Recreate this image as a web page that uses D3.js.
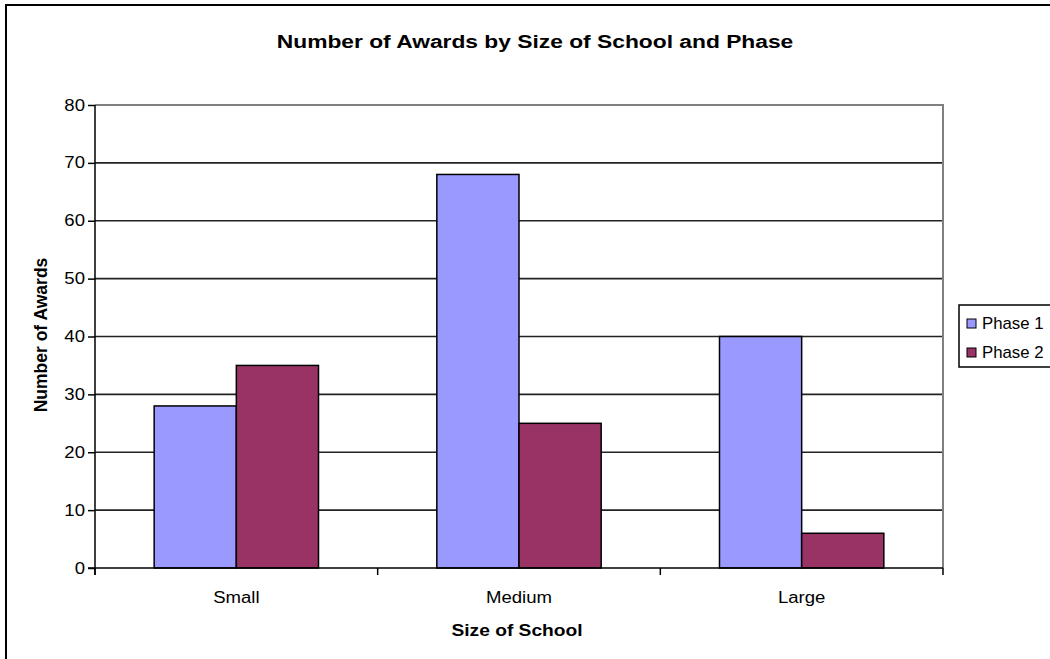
<!DOCTYPE html>
<html><head><meta charset="utf-8">
<script src="https://cdn.jsdelivr.net/npm/d3@7"></script>
<style>body{margin:0;background:#fff}svg{display:block;font-family:"Liberation Sans",Arial,sans-serif}</style>
</head><body><svg id="c" width="1050" height="659"></svg>
<script>
const categories = ["Small", "Medium", "Large"];
const seriesNames = ["Phase 1", "Phase 2"];
const phase1 = [28, 68, 40];
const phase2 = [35, 25, 6];
const yTicks = [0, 10, 20, 30, 40, 50, 60, 70, 80];
const colors = ["#9999FF", "#993366"];

const svg = d3.select("#c");
const L = 95, R = 943, T = 105, B = 568;
const SX = 1.16;

function txt(x, y, s, opts) {
  opts = opts || {};
  const t = svg.append("text")
    .attr("transform", `translate(${x},${y}) scale(${opts.sx || SX},1)`)
    .attr("text-anchor", opts.anchor || "start")
    .attr("font-size", opts.size || 16)
    .attr("fill", "#000")
    .text(s);
  if (opts.bold) t.attr("font-weight", "bold");
  if (opts.dy) t.attr("dy", opts.dy);
  return t;
}

svg.append("path").attr("d", `M6,659 V5 H1050`).attr("fill","none").attr("stroke","#000").attr("stroke-width",2);

const x = d3.scaleBand().domain(categories).range([L, R]);
const xs = d3.scaleBand().domain(seriesNames).range([0, x.bandwidth()]).paddingInner(0).paddingOuter(0.72);
const y = d3.scaleLinear().domain([0, 80]).range([B, T]);

// gridlines
svg.append("g").selectAll("line").data(yTicks.filter(d => d > 0 && d < 80)).join("line")
  .attr("x1", L).attr("x2", R).attr("y1", d => y(d)).attr("y2", d => y(d))
  .attr("stroke", "#222").attr("stroke-width", 1.6);
// plot border top/right
svg.append("path").attr("d", `M${L},${y(80)} H${R} V${B}`).attr("fill","none").attr("stroke","#808080").attr("stroke-width",2);

const data = categories.map((c, i) => ({c, vals: [phase1[i], phase2[i]]}));
const g = svg.append("g");
data.forEach(d => {
  d.vals.forEach((v, j) => {
    g.append("rect")
      .attr("x", x(d.c) + xs(seriesNames[j]))
      .attr("y", y(v))
      .attr("width", xs.bandwidth())
      .attr("height", y(0) - y(v))
      .attr("fill", colors[j]).attr("stroke", "#000").attr("stroke-width", 1.5);
  });
});

// y axis
const ya = svg.append("g").attr("transform", `translate(${L},0)`)
  .call(d3.axisLeft(y).tickValues(yTicks).tickSize(7).tickFormat(""));
ya.select(".domain").attr("stroke","#000").attr("stroke-width",1.5).attr("d", `M0,${B+7} V${T}`);
ya.selectAll(".tick line").attr("stroke","#000").attr("stroke-width",1.5);
yTicks.forEach(v => txt(L - 10, y(v), String(v), {anchor: "end", size: 16, dy: "0.35em"}));

// x axis
const xa = svg.append("g").attr("transform", `translate(0,${B})`);
xa.append("line").attr("x1", L-7).attr("x2", R).attr("stroke","#000").attr("stroke-width",1.5);
xa.selectAll("line.t").data(categories).join("line").attr("class","t")
  .attr("x1", d => x(d) + x.bandwidth()).attr("x2", d => x(d) + x.bandwidth())
  .attr("y1", 0).attr("y2", 7).attr("stroke","#000").attr("stroke-width",1.5);
xa.append("line").attr("x1", L).attr("x2", L).attr("y1", 0).attr("y2", 7).attr("stroke","#000").attr("stroke-width",1.5);
categories.forEach(c => txt(x(c) + x.bandwidth()/2, B + 35, c, {anchor: "middle", size: 16}));

// titles
txt(535, 48, "Number of Awards by Size of School and Phase", {anchor: "middle", size: 19, bold: true, sx: 1.2});
txt(517, 636, "Size of School", {anchor: "middle", size: 16, bold: true, sx: 1.2});
svg.append("text").attr("transform", "translate(47,335) rotate(-90)").attr("text-anchor","middle")
  .attr("font-size", 17.5).attr("font-weight","bold").text("Number of Awards");

// legend
svg.append("rect").attr("x",959).attr("y",305).attr("width",120).attr("height",62).attr("fill","#fff").attr("stroke","#000").attr("stroke-width",1.5);
seriesNames.forEach((s, i) => {
  svg.append("rect").attr("x",967).attr("y",319 + i*29).attr("width",9).attr("height",9)
    .attr("fill",colors[i]).attr("stroke","#000").attr("stroke-width",1);
  txt(982, 329 + i*29, s, {size: 16, sx: 1.05});
});
</script></body></html>
